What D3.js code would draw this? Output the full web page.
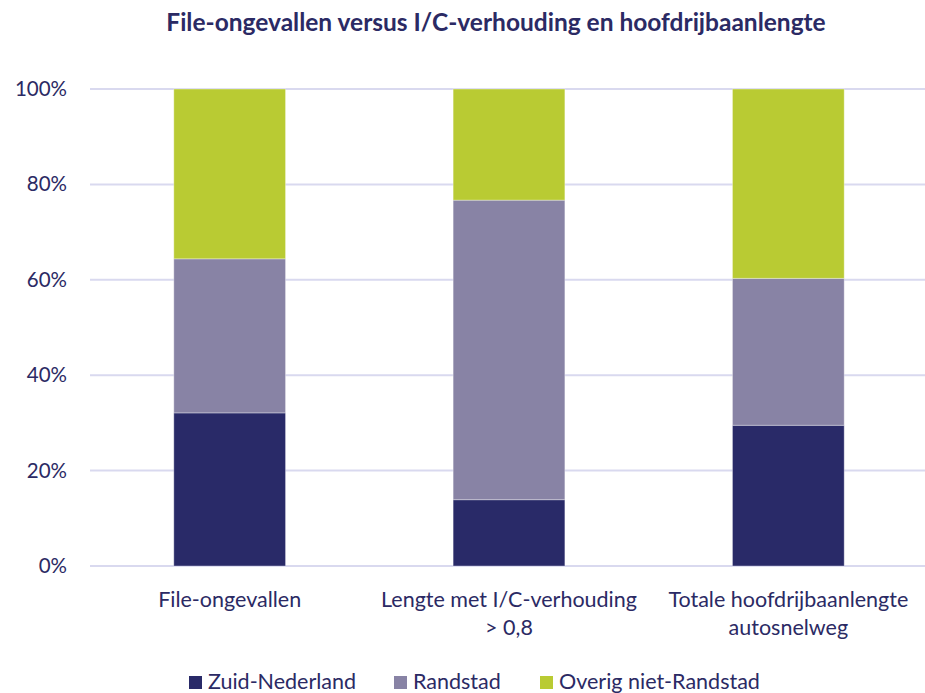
<!DOCTYPE html>
<html><head><meta charset="utf-8">
<script src="https://cdn.jsdelivr.net/npm/d3@7/dist/d3.min.js"></script>
<style>body{margin:0;background:#fff;} svg{display:block;font-family:Lato,"Open Sans",sans-serif;}</style>
</head><body>
<svg id="c" width="925" height="693"></svg>
<script>
const title = "File-ongevallen versus I/C-verhouding en hoofdrijbaanlengte";
const categories = [["File-ongevallen"], ["Lengte met I/C-verhouding", "> 0,8"], ["Totale hoofdrijbaanlengte", "autosnelweg"]];
const seriesNames = ["Zuid-Nederland", "Randstad", "Overig niet-Randstad"];
const zuid = [32.1, 13.9, 29.5];
const randstad = [32.3, 62.8, 30.8];
const overig = [35.6, 23.3, 39.7];
const yTicks = [0, 20, 40, 60, 80, 100];
const colors = ["#292a68", "#8883a5", "#b9cb33"];
const textColor = "#2b2a64";

const svg = d3.select("#c");
const x = d3.scaleBand().domain(d3.range(categories.length)).range([90, 928]).paddingInner(0.6).paddingOuter(0.3);
const y = d3.scaleLinear().domain([0, 100]).range([566, 89]);

svg.append("text").attr("x", 496).attr("y", 31).attr("text-anchor", "middle")
  .attr("font-weight", "bold").attr("font-size", 24.5).attr("fill", textColor).text(title);

// grid
svg.append("g").selectAll("line").data(yTicks).join("line")
  .attr("x1", 90).attr("x2", 925).attr("y1", d => y(d)).attr("y2", d => y(d))
  .attr("stroke", "#d9d9ef").attr("stroke-width", 2);

// y axis labels
const yAxis = d3.axisLeft(y).tickValues(yTicks).tickFormat(d => d + "%").tickSize(0).tickPadding(0);
const ya = svg.append("g").attr("transform", "translate(67,0)").call(yAxis);
ya.select(".domain").remove();
ya.selectAll("text").attr("font-size", 20.5).attr("fill", textColor).attr("font-family", "Lato, 'Open Sans', sans-serif");

// stack
const rows = categories.map((c, i) => ({i, z: zuid[i], r: randstad[i], o: overig[i]}));
const stack = d3.stack().keys(["z", "r", "o"])(rows);
svg.append("g").selectAll("g").data(stack).join("g").attr("fill", (d, k) => colors[k])
  .selectAll("rect").data(d => d).join("rect")
  .attr("x", d => x(d.data.i)).attr("width", x.bandwidth())
  .attr("y", d => y(d[1])).attr("height", d => y(d[0]) - y(d[1]))
  .attr("stroke", "rgba(255,255,255,0.35)").attr("stroke-width", 1);

// x labels
const xl = svg.append("g").selectAll("text").data(categories).join("text")
  .attr("text-anchor", "middle").attr("font-size", 21.5).attr("fill", textColor)
  .attr("transform", (d, i) => `translate(${x(i) + x.bandwidth() / 2},607)`);
xl.selectAll("tspan").data(d => d).join("tspan").attr("x", 0).attr("y", (d, j) => j * 28).text(d => d);

// legend
const legX = [189, 394, 540];
const leg = svg.append("g").selectAll("g").data(seriesNames).join("g")
  .attr("transform", (d, i) => `translate(${legX[i]},0)`);
leg.append("rect").attr("x", 0).attr("y", 676).attr("width", 13).attr("height", 13).attr("fill", (d, i) => colors[i]);
leg.append("text").attr("x", 19).attr("y", 689).attr("font-size", 21.5).attr("fill", textColor).text(d => d);
</script>
</body></html>
